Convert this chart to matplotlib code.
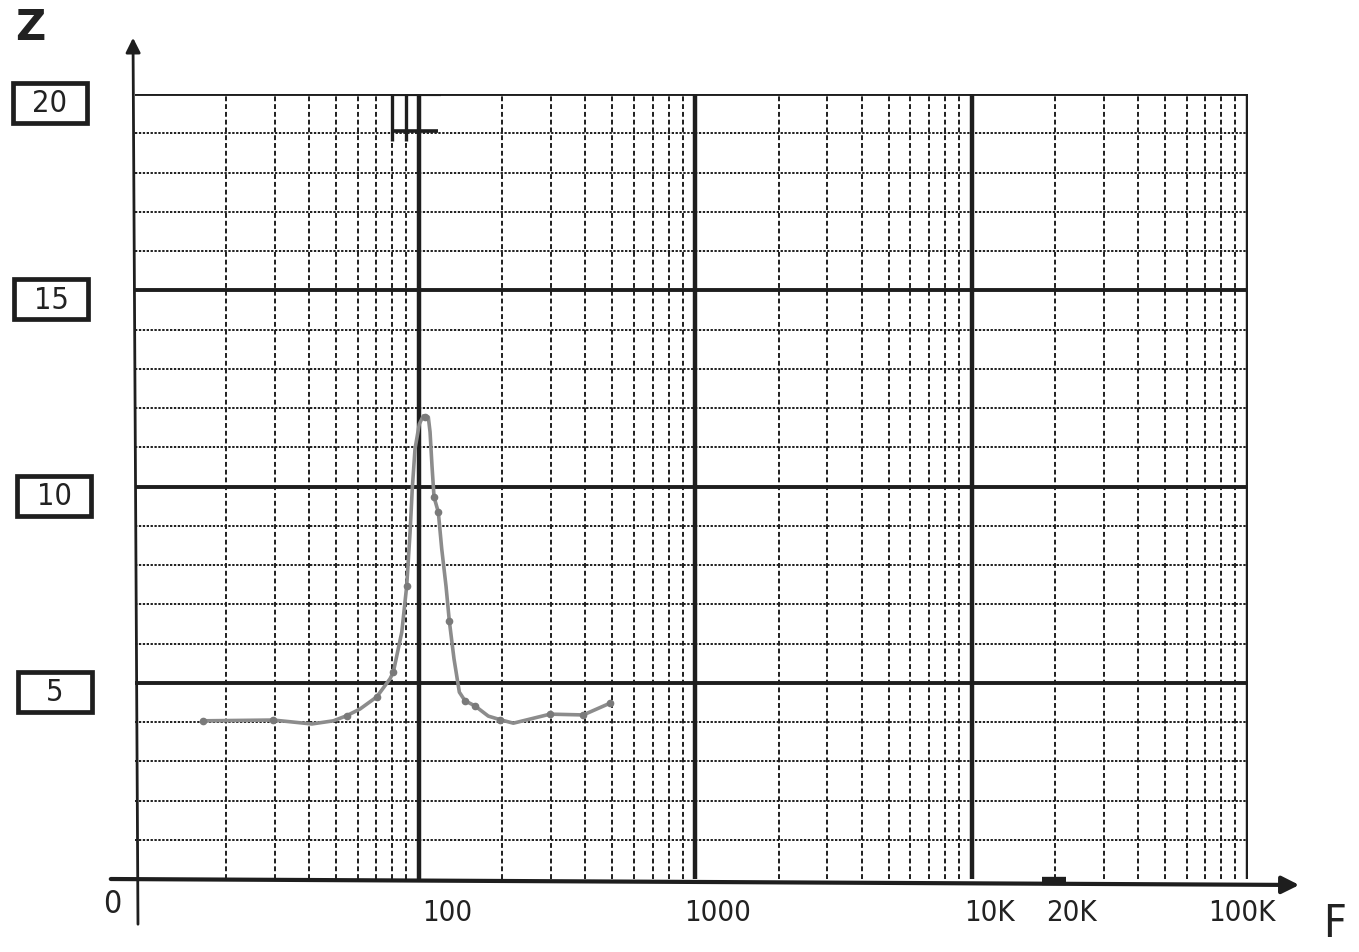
import matplotlib
matplotlib.use('Agg')
import matplotlib.pyplot as plt
from matplotlib.patches import Rectangle
from matplotlib.ticker import FixedLocator, NullFormatter
from matplotlib.transforms import offset_copy

# frequency response traced from the hand-drawn sheet (Hz, ohm)
freq = [16.48, 29.68, 40.9, 48.95, 54.7, 61.1, 70.3, 78.5, 80.7, 86.6, 90.2, 92.8,
        94.5, 96.7, 100.2, 103.6, 108.0, 109.6, 111.4, 113.3, 117.4, 120.8, 125.2,
        128.7, 133.8, 139.9, 146.7, 159.4, 178.1, 196.3, 219.4, 297.9, 393.0, 491.1]
imped = [4.03, 4.05, 3.95, 4.03, 4.16, 4.33, 4.64, 5.10, 5.27, 6.29, 7.46, 8.84,
         9.94, 10.96, 11.59, 11.80, 11.77, 11.39, 10.52, 9.73, 9.35, 8.41, 7.46,
         6.57, 5.61, 4.76, 4.54, 4.41, 4.15, 4.06, 3.97, 4.20, 4.18, 4.48]
# the points actually marked with a dot
dot_freq = [16.48, 29.68, 54.7, 70.3, 80.7, 90.2, 105.5, 113.3, 117.4, 128.7,
            146.7, 159.4, 196.3, 297.9, 393.0, 491.1]
dot_imped = [4.03, 4.05, 4.16, 4.64, 5.27, 7.46, 11.78, 9.73, 9.35, 6.57,
             4.54, 4.41, 4.06, 4.20, 4.18, 4.48]

x_labels = ['100', '1000', '10K', '20K', '100K']
x_label_pos = [100, 1000, 10000, 20000, 100000]
x_label_shift = [28, 22, 18, 17, -6]
y_labels = ['5', '10', '15', '20']
y_label_pos = [5, 10, 15, 20]
y_box_x = [55, 54, 51, 50]

ink = '#1e1e1e'
pen = dict(family='DejaVu Sans', fontstretch='condensed', color='#222222')

W, H = 1359, 953
fig = plt.figure(figsize=(W / 100, H / 100), dpi=100)
fig.patch.set_facecolor('white')
ax = fig.add_axes([135 / W, 1 - 880 / H, (1248 - 135) / W, (880 - 95) / H])
ax.set_xscale('log')
ax.set_xlim(10 ** 0.972, 1e5)
ax.set_ylim(0, 20)

# graph paper grid
ax.xaxis.set_major_locator(FixedLocator([100, 1000, 10000, 100000]))
minors = [m * 10 ** d for d in range(1, 5) for m in range(2, 10)]
ax.xaxis.set_minor_locator(FixedLocator(minors))
ax.yaxis.set_major_locator(FixedLocator([5, 10, 15, 20]))
ax.yaxis.set_minor_locator(FixedLocator([v for v in range(1, 20) if v % 5]))
ax.xaxis.set_major_formatter(NullFormatter())
ax.xaxis.set_minor_formatter(NullFormatter())
ax.yaxis.set_major_formatter(NullFormatter())
ax.tick_params(which='both', length=0)
ax.grid(which='major', axis='x', color=ink, lw=3.2)
ax.grid(which='minor', axis='x', color=ink, lw=1.4, ls=(0, (2.5, 1.5)))
ax.grid(which='major', axis='y', color=ink, lw=2.8)
ax.grid(which='minor', axis='y', color=ink, lw=1.4, ls=(0, (1.2, 0.8)))
for s in ax.spines.values():
    s.set_visible(False)

# pen marks near the top at 100 Hz and on the axis at 20K
ax.hlines(19.06, 79, 117, color=ink, lw=2.6, zorder=4)
ax.vlines([80, 90], 18.8, 20, color=ink, lw=2.4, zorder=4)
ax.hlines(20, 80, 120, color=ink, lw=3.0, zorder=4)
ax.hlines(-0.05, 18000, 22000, color=ink, lw=6, zorder=4, clip_on=False)

# the curve
ax.plot(freq, imped, color='#8c8c8c', lw=2.6, solid_capstyle='round',
        solid_joinstyle='round', zorder=5)
ax.plot(dot_freq, dot_imped, 'o', color='#7a7a7a', ms=4.5, zorder=6)

# axes with arrows
ax.annotate('', xy=(1302 / W, 1 - 886 / H), xytext=(108 / W, 1 - 880 / H),
            xycoords='figure fraction',
            arrowprops=dict(arrowstyle='-|>', color='#1e1e1e', lw=3.0, mutation_scale=26))
ax.annotate('', xy=(133 / W, 1 - 36 / H), xytext=(138 / W, 1 - 928 / H),
            xycoords='figure fraction',
            arrowprops=dict(arrowstyle='-|>', color='#1e1e1e', lw=2.0, mutation_scale=22))

# x labels
xt = ax.get_xaxis_transform()
for lab, pos, sh in zip(x_labels, x_label_pos, x_label_shift):
    tr = offset_copy(xt, fig=fig, x=sh, y=0, units='dots')
    ax.text(pos, -0.042, lab, transform=tr, ha='center', va='center',
            fontsize=21, **pen)
fig.text(112 / W, 1 - 905 / H, '0', fontsize=23, ha='center', va='center', **pen)
fig.text(1335 / W, 1 - 925 / H, 'F', fontsize=32, ha='center', va='center', **pen)
fig.text(30 / W, 1 - 28 / H, 'Z', fontsize=30, ha='center', va='center',
         weight='bold', family='DejaVu Sans', color='#222222')

# boxed y labels
for lab, pos, bx in zip(y_labels, y_label_pos, y_box_x):
    yc = 880 - pos * (880 - 95) / 20 + 9
    fig.text(bx / W, 1 - yc / H, lab, fontsize=22, ha='center', va='center', **pen)
    fig.patches.append(Rectangle(((bx - 37) / W, 1 - (yc + 20) / H), 74 / W, 40 / H,
                                 transform=fig.transFigure, fill=False,
                                 ec='#1e1e1e', lw=3.4))

fig.savefig('out.png', dpi=100, facecolor='white')
